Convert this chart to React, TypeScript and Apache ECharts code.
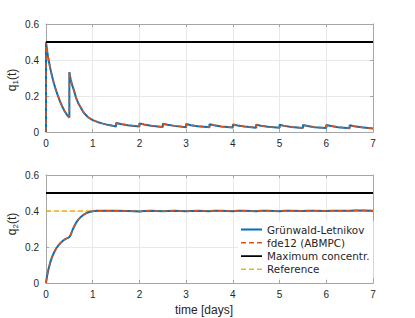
import React, { useEffect, useRef } from "react";
import * as echarts from "echarts";

// q1(t): drug amount, compartment 1
const q1Time = [
  0, 0, 0.03, 0.06, 0.09, 0.13, 0.17, 0.21, 0.25, 0.3, 0.35, 0.4, 0.45, 0.5,
  0.5, 0.53, 0.56, 0.6, 0.65, 0.7, 0.75, 0.8, 0.9, 1.0, 1.1, 1.2, 1.3, 1.4, 1.5,
  1.5, 1.6, 1.75, 2.0,
  2.0, 2.1, 2.25, 2.5,
  2.5, 2.6, 2.75, 3.0,
  3.0, 3.1, 3.25, 3.5,
  3.5, 3.6, 3.75, 4.0,
  4.0, 4.1, 4.25, 4.5,
  4.5, 4.6, 4.75, 5.0,
  5.0, 5.1, 5.25, 5.5,
  5.5, 5.6, 5.75, 6.0,
  6.0, 6.1, 6.25, 6.5,
  6.5, 6.6, 6.75, 7.0,
];
const q1Values = [
  0, 0.5, 0.44, 0.395, 0.355, 0.31, 0.27, 0.235, 0.205, 0.17, 0.14, 0.115, 0.095, 0.08,
  0.333, 0.29, 0.26, 0.23, 0.185, 0.155, 0.133, 0.11, 0.082, 0.066, 0.056, 0.048, 0.041, 0.036, 0.031,
  0.05, 0.044, 0.037, 0.03,
  0.048, 0.042, 0.035, 0.028,
  0.046, 0.04, 0.034, 0.027,
  0.044, 0.038, 0.032, 0.026,
  0.043, 0.037, 0.031, 0.025,
  0.042, 0.036, 0.03, 0.024,
  0.041, 0.035, 0.029, 0.023,
  0.04, 0.034, 0.028, 0.022,
  0.039, 0.033, 0.027, 0.022,
  0.039, 0.033, 0.027, 0.021,
  0.038, 0.032, 0.026, 0.02,
];

// q2(t): drug amount, compartment 2
const q2Time = [
  0, 0.02, 0.05, 0.09, 0.13, 0.17, 0.22, 0.27, 0.32, 0.37, 0.42, 0.47, 0.5,
  0.53, 0.56, 0.6, 0.65, 0.7, 0.75, 0.8, 0.85, 0.9, 0.95, 1.0, 1.1, 1.25, 1.5,
  1.75, 2.0, 2.1, 2.25, 2.5, 2.6, 2.75, 3.0, 3.1, 3.25, 3.5, 3.6, 3.75, 4.0,
  4.1, 4.25, 4.5, 4.6, 4.75, 5.0, 5.1, 5.25, 5.5, 5.6, 5.75, 6.0, 6.1, 6.25,
  6.5, 6.6, 6.75, 7.0,
];
const q2Values = [
  0, 0.035, 0.074, 0.113, 0.145, 0.168, 0.193, 0.21, 0.225, 0.236, 0.245, 0.251, 0.255,
  0.268, 0.29, 0.313, 0.337, 0.355, 0.368, 0.378, 0.386, 0.392, 0.396, 0.399, 0.401, 0.402, 0.401,
  0.4, 0.397, 0.4, 0.401, 0.398, 0.4, 0.401, 0.398, 0.4, 0.401, 0.399, 0.401, 0.401, 0.399,
  0.401, 0.401, 0.399, 0.401, 0.401, 0.399, 0.401, 0.402, 0.4, 0.402, 0.402, 0.4, 0.402, 0.402,
  0.401, 0.403, 0.403, 0.402,
];

const limitTime = [0, 7];
const maxConcentration = [0.5, 0.5];
const referenceLevel = [0.4, 0.4];

const xTicks = { min: 0, max: 7, interval: 1 };
const yTicks = { min: 0, max: 0.6, interval: 0.2 };

const seriesNames = ["Grünwald-Letnikov", "fde12 (ABMPC)", "Maximum concentr.", "Reference"];

const BLUE = "#0072BD";
const ORANGE = "#D95319";
const YELLOW = "#EDB120";
const AXIS = "#a6a6a6";
const GRID = "#e8e8e8";
const TEXT = "#262626";
const AXFONT = "'Liberation Sans', Arial, sans-serif";
const LEGFONT = "'DejaVu Sans', sans-serif";

// legend icons: 21x13 box with a horizontal stroke in the middle
const BOX = "M0,0L0.01,0L0,0.01Z M21,13L20.99,13L21,12.99Z ";
const SOLID_ICON = "path://" + BOX + "M0,5.6h21v1.8h-21Z";
const DASH_ICON = "path://" + BOX + "M0,5.6h5v1.6h-5Z M8,5.6h5v1.6h-5Z M16,5.6h5v1.6h-5Z";

const zip = (a: number[], b: number[]) => a.map((t, i) => [t, b[i]]);

function xAxes(gridIndex: number) {
  const common = {
    gridIndex,
    type: "value" as const,
    ...xTicks,
    axisLine: { show: true, onZero: false, lineStyle: { color: AXIS, width: 1 } },
    axisTick: { show: true, inside: true, length: 3, lineStyle: { color: AXIS } },
  };
  return [
    {
      ...common,
      position: "bottom",
      axisLabel: { color: TEXT, fontSize: 10, fontFamily: AXFONT, margin: 6 },
      splitLine: { show: true, lineStyle: { color: GRID, width: 1 } },
    },
    {
      ...common,
      position: "top",
      axisLabel: { show: false },
      splitLine: { show: false },
    },
  ];
}

function yAxes(gridIndex: number) {
  const common = {
    gridIndex,
    type: "value" as const,
    ...yTicks,
    axisLine: { show: true, onZero: false, lineStyle: { color: AXIS, width: 1 } },
    axisTick: { show: true, inside: true, length: 3, lineStyle: { color: AXIS } },
  };
  return [
    {
      ...common,
      position: "left",
      axisLabel: {
        color: TEXT,
        fontSize: 10,
        fontFamily: AXFONT,
        margin: 7,
        formatter: (v: number) => (v === 0 ? "0" : v.toFixed(1)),
      },
      splitLine: { show: true, lineStyle: { color: GRID, width: 1 } },
    },
    {
      ...common,
      position: "right",
      axisLabel: { show: false },
      splitLine: { show: false },
    },
  ];
}

function panelSeries(axisX: number, axisY: number, qT: number[], qV: number[], withRef: boolean) {
  const s: any[] = [
    {
      name: seriesNames[0],
      type: "line",
      xAxisIndex: axisX,
      yAxisIndex: axisY,
      data: zip(qT, qV),
      showSymbol: false,
      symbol: "none",
      lineStyle: { color: BLUE, width: 2 },
      itemStyle: { color: BLUE },
    },
    {
      name: seriesNames[1],
      type: "line",
      xAxisIndex: axisX,
      yAxisIndex: axisY,
      data: zip(qT, qV),
      showSymbol: false,
      symbol: "none",
      lineStyle: { color: ORANGE, width: 1.5, type: [5, 3] },
      itemStyle: { color: ORANGE },
    },
    {
      name: seriesNames[2],
      type: "line",
      xAxisIndex: axisX,
      yAxisIndex: axisY,
      data: zip(limitTime, maxConcentration),
      showSymbol: false,
      symbol: "none",
      lineStyle: { color: "#000000", width: 1.8 },
      itemStyle: { color: "#000000" },
    },
  ];
  if (withRef) {
    s.push({
      name: seriesNames[3],
      type: "line",
      xAxisIndex: axisX,
      yAxisIndex: axisY,
      data: zip(limitTime, referenceLevel),
      showSymbol: false,
      symbol: "none",
      z: 1,
      lineStyle: { color: YELLOW, width: 1.5, type: [5, 3] },
      itemStyle: { color: YELLOW },
    });
  }
  return s;
}

function yLabel(y: number, sub: string) {
  return {
    type: "text",
    x: 12,
    y,
    rotation: Math.PI / 2,
    style: {
      text: `{a|q}{s|${sub}}{a|(t)}`,
      align: "center",
      verticalAlign: "middle",
      fill: TEXT,
      rich: {
        a: { fontSize: 12, fontFamily: AXFONT, fill: TEXT },
        s: { fontSize: 8, fontFamily: AXFONT, fill: TEXT, padding: [7, 0, 0, 0] },
      },
    },
  };
}

export default function App() {
  const ref = useRef<HTMLDivElement>(null);
  useEffect(() => {
    if (!ref.current) return;
    const chart = echarts.init(ref.current, undefined, { renderer: "svg" });
    chart.setOption({
      animation: false,
      backgroundColor: "#ffffff",
      grid: [
        { left: 46, top: 24, width: 327, height: 108 },
        { left: 46, top: 175, width: 327, height: 108 },
      ],
      xAxis: [...xAxes(0), ...xAxes(1)],
      yAxis: [...yAxes(0), ...yAxes(1)],
      legend: {
        data: [
          { name: seriesNames[0], icon: SOLID_ICON, itemStyle: { color: BLUE } },
          { name: seriesNames[1], icon: DASH_ICON, itemStyle: { color: ORANGE } },
          { name: seriesNames[2], icon: SOLID_ICON, itemStyle: { color: "#000000" } },
          { name: seriesNames[3], icon: DASH_ICON, itemStyle: { color: YELLOW } },
        ],
        orient: "vertical",
        left: 238,
        top: 221,
        padding: [2, 4, 2, 3],
        itemWidth: 21,
        itemHeight: 13,
        itemGap: 0.3,
        backgroundColor: "#ffffff",
        selectedMode: false,
        textStyle: { fontFamily: LEGFONT, fontSize: 10.4, color: TEXT },
      },
      series: [
        ...panelSeries(0, 0, q1Time, q1Values, false),
        ...panelSeries(2, 2, q2Time, q2Values, true),
      ],
      graphic: [
        yLabel(80, "1"),
        yLabel(224, "2"),
        {
          type: "text",
          x: 204,
          y: 310,
          style: {
            text: "time [days]",
            align: "center",
            verticalAlign: "middle",
            fontSize: 12,
            fontFamily: AXFONT,
            fill: TEXT,
          },
        },
      ],
    });
    return () => chart.dispose();
  }, []);
  return (
    <div
      ref={ref}
      style={{ position: "absolute", left: 0, top: 0, width: 415, height: 318 }}
    />
  );
}
